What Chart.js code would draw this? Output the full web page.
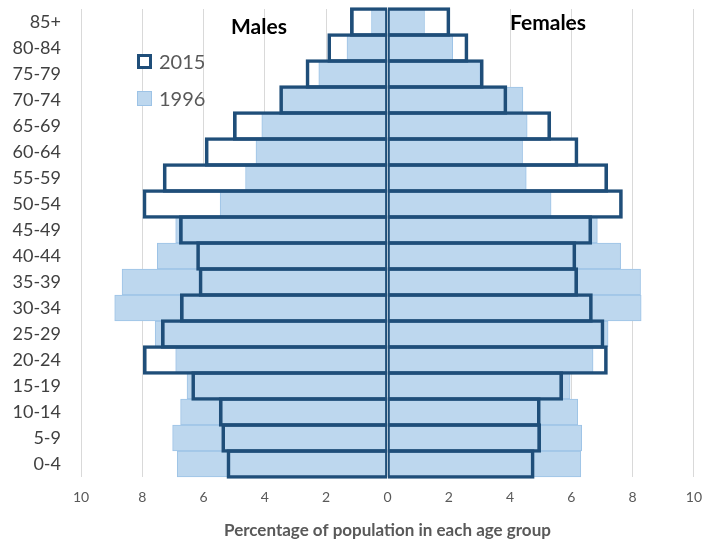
<!DOCTYPE html>
<html>
<head>
<meta charset="utf-8">
<script src="https://cdn.jsdelivr.net/npm/chart.js@4/dist/chart.umd.min.js"></script>
<style>
    html, body { margin: 0; padding: 0; background: #fff; }
    #wrap { position: relative; width: 714px; height: 541px; }
    #pyramid { position: absolute; left: 0; top: 0; }
    .side-label { position: absolute; font-family: Lato, sans-serif; font-weight: bold; font-size: 21px; color: #000; line-height: 1; }
    .legend-item { position: absolute; font-family: Lato, sans-serif; font-size: 20px; color: #595959; line-height: 1; display: flex; align-items: center; }
    .legend-item .box { display: inline-block; box-sizing: border-box; width: 15px; height: 15px; margin-right: 7px; }
</style>
</head>
<body>
<div id="wrap">
    <canvas id="pyramid" width="714" height="541"></canvas>
    <div class="side-label" style="left:231px; top:15px;">Males</div>
    <div class="side-label" style="left:510px; top:11px;">Females</div>
    <div class="legend-item" style="left:137px; top:51px;"><span class="box" style="border:3px solid #1F4E79; background:#fff;"></span>2015</div>
    <div class="legend-item" style="left:137px; top:88px;"><span class="box" style="border:1px solid #9DC3E6; background:#BDD7EE;"></span>1996</div>
</div>
<script>
// 年齢階級（上から順）
const ageGroups = ['85+', '80-84', '75-79', '70-74', '65-69', '60-64', '55-59', '50-54', '45-49',
    '40-44', '35-39', '30-34', '25-29', '20-24', '15-19', '10-14', '5-9', '0-4'];

// 男性（%）
const males2015 = [1.21, 1.95, 2.66, 3.52, 5.03, 5.95, 7.32, 7.98, 6.79,
    6.23, 6.15, 6.76, 7.38, 7.97, 6.39, 5.49, 5.41, 5.24];
const males1996 = [0.52, 1.32, 2.24, 3.45, 4.10, 4.29, 4.63, 5.46, 6.91,
    7.51, 8.66, 8.90, 7.58, 6.91, 6.54, 6.75, 7.01, 6.86];

// 女性（%）
const females2015 = [2.04, 2.63, 3.13, 3.90, 5.33, 6.22, 7.19, 7.67, 6.67,
    6.15, 6.21, 6.69, 7.07, 7.18, 5.72, 4.99, 5.00, 4.79];
const females1996 = [1.21, 2.13, 3.03, 4.42, 4.56, 4.41, 4.53, 5.34, 6.85,
    7.61, 8.26, 8.28, 7.20, 6.71, 5.96, 6.21, 6.34, 6.31];

const xTicks = [-10, -8, -6, -4, -2, 0, 2, 4, 6, 8, 10];

const dark = '#1F4E79';
const light = '#BDD7EE';
const lightEdge = '#9DC3E6';

const neg = arr => arr.map(v => -v);

const barBase = {
    grouped: false,
    categoryPercentage: 1.0,
    barPercentage: 1.0,
    clip: false
};

// 枠線は隣の行と重ねて3pxに見せる
const outline = {
    ...barBase,
    barThickness: 29,
    backgroundColor: 'rgba(0,0,0,0)',
    borderColor: dark,
    borderSkipped: false,
    order: 0
};

// 描画順: 白塗り(2015) → 1996 → 2015枠線
const datasets = [
    { ...outline, label: '2015 M', data: neg(males2015), borderWidth: { top: 3, bottom: 3, left: 3, right: 1.5 } },
    { ...outline, label: '2015 F', data: females2015, borderWidth: { top: 3, bottom: 3, left: 1.5, right: 3 } },
    { ...barBase, label: '1996 M', data: neg(males1996), backgroundColor: light, borderColor: lightEdge, borderWidth: 1, borderSkipped: false, order: 1 },
    { ...barBase, label: '1996 F', data: females1996, backgroundColor: light, borderColor: lightEdge, borderWidth: 1, borderSkipped: false, order: 1 },
    { ...barBase, label: 'fill M', data: neg(males2015), backgroundColor: '#ffffff', borderWidth: 0, order: 2 },
    { ...barBase, label: 'fill F', data: females2015, backgroundColor: '#ffffff', borderWidth: 0, order: 2 }
];

const ctx = document.getElementById('pyramid').getContext('2d');

new Chart(ctx, {
    type: 'bar',
    data: { labels: ageGroups, datasets: datasets },
    options: {
        indexAxis: 'y',
        responsive: false,
        animation: false,
        layout: { padding: { top: 9, right: 20, left: 0, bottom: 0 } },
        plugins: {
            legend: { display: false },
            tooltip: { enabled: false }
        },
        scales: {
            x: {
                min: -10,
                max: 10,
                afterBuildTicks: scale => { scale.ticks = xTicks.map(v => ({ value: v })); },
                afterFit: scale => { scale.height = 64; },
                grid: { color: '#D9D9D9', lineWidth: 1, drawTicks: false },
                border: { display: false },
                ticks: {
                    padding: 12,
                    color: '#595959',
                    font: { family: 'Lato', size: 14 },
                    callback: v => Math.abs(v)
                },
                title: {
                    display: true,
                    text: 'Percentage of population in each age group',
                    color: '#595959',
                    font: { family: 'Lato', size: 17, weight: 'bold' },
                    padding: { top: 12, bottom: 0 }
                }
            },
            y: {
                afterFit: scale => {
                    scale.width = 81;
                    scale.paddingTop = 0;
                    scale.paddingBottom = 0;
                },
                grid: { display: false },
                border: { display: false },
                ticks: {
                    padding: 12,
                    color: '#404040',
                    font: { family: 'Lato', size: 18 }
                }
            }
        }
    }
});
</script>
</body>
</html>
